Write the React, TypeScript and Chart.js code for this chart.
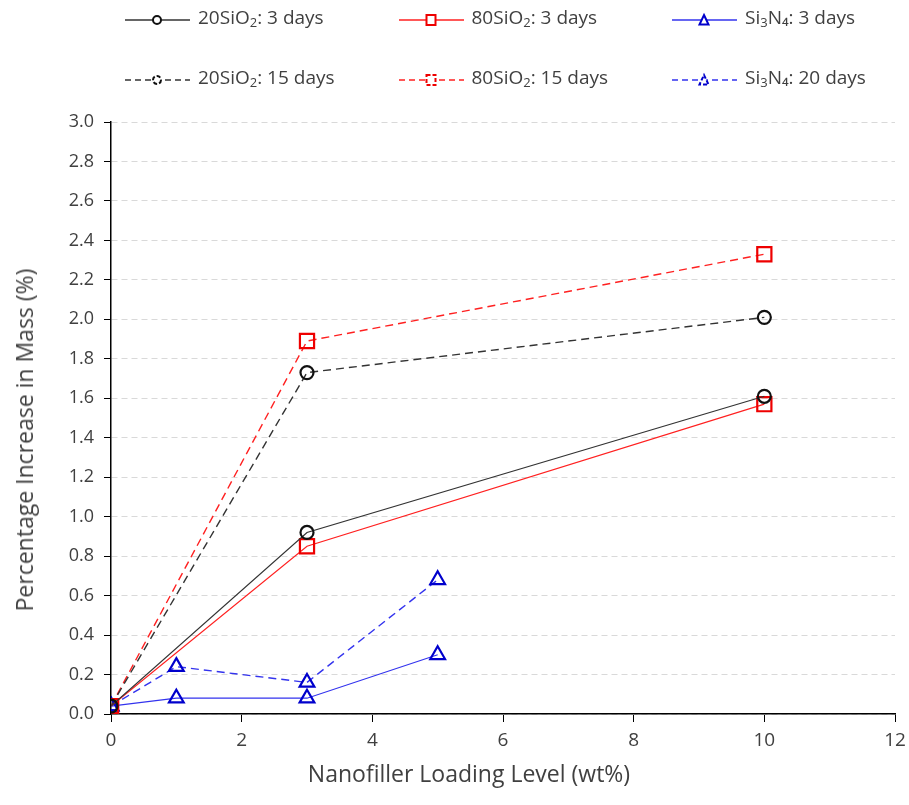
import React, { useEffect, useRef } from "react";
import { Chart, registerables } from "chart.js";

Chart.register(...registerables);

const sio20_3 = [{ x: 0, y: 0.04 }, { x: 3, y: 0.92 }, { x: 10, y: 1.61 }];
const sio80_3 = [{ x: 0, y: 0.04 }, { x: 3, y: 0.85 }, { x: 10, y: 1.57 }];
const si3n4_3 = [{ x: 0, y: 0.04 }, { x: 1, y: 0.08 }, { x: 3, y: 0.08 }, { x: 5, y: 0.3 }];
const sio20_15 = [{ x: 0, y: 0.04 }, { x: 3, y: 1.73 }, { x: 10, y: 2.01 }];
const sio80_15 = [{ x: 0, y: 0.04 }, { x: 3, y: 1.89 }, { x: 10, y: 2.33 }];
const si3n4_20 = [{ x: 0, y: 0.04 }, { x: 1, y: 0.24 }, { x: 3, y: 0.16 }, { x: 5, y: 0.68 }];

const xTitle = "Nanofiller Loading Level (wt%)";
const yTitle = "Percentage Increase in Mass (%)";

const BLACK_LINE = "#333333";
const BLACK_PT = "#111111";
const RED = "#ff2020";
const RED_PT = "#ee0000";
const BLUE = "#3333ee";
const BLUE_PT = "#0000cc";
const FONT = "'Open Sans', 'Noto Sans', sans-serif";
const TXT = "#404040";

type LegendItem = { base: string; sub: string; rest: string; color: string; pt: string; marker: string; dashed: boolean };
const legendRows: LegendItem[][] = [
  [
    { base: "20SiO", sub: "2", rest: ": 3 days", color: BLACK_LINE, pt: BLACK_PT, marker: "circle", dashed: false },
    { base: "80SiO", sub: "2", rest: ": 3 days", color: RED, pt: RED_PT, marker: "rect", dashed: false },
    { base: "Si", sub: "3", rest: "N\u2084: 3 days", color: BLUE, pt: BLUE_PT, marker: "triangle", dashed: false },
  ],
  [
    { base: "20SiO", sub: "2", rest: ": 15 days", color: BLACK_LINE, pt: BLACK_PT, marker: "circle", dashed: true },
    { base: "80SiO", sub: "2", rest: ": 15 days", color: RED, pt: RED_PT, marker: "rect", dashed: true },
    { base: "Si", sub: "3", rest: "N\u2084: 20 days", color: BLUE, pt: BLUE_PT, marker: "triangle", dashed: true },
  ],
];

function Marker({ item }: { item: LegendItem }) {
  const dash = item.dashed ? "6 4" : undefined;
  const pd = item.dashed ? "4 2" : undefined;
  let m: React.ReactNode = null;
  if (item.marker === "circle") m = <circle cx={32} cy={9} r={4} fill="white" stroke={item.pt} strokeWidth={2} strokeDasharray={pd} />;
  if (item.marker === "rect") m = <rect x={27.5} y={4} width={9} height={10} fill="white" stroke={item.pt} strokeWidth={2} strokeDasharray={pd} />;
  if (item.marker === "triangle") m = <polygon points="32,4 36.5,13.5 27.5,13.5" fill="white" stroke={item.pt} strokeWidth={2} strokeDasharray={pd} />;
  return (
    <svg width={65} height={18} style={{ display: "block" }}>
      <line x1={0} y1={9} x2={65} y2={9} stroke={item.color} strokeWidth={1.4} strokeDasharray={dash} />
      {m}
    </svg>
  );
}

export default function App() {
  const ref = useRef<HTMLCanvasElement | null>(null);
  useEffect(() => {
    if (!ref.current) return;
    const mk = (label: string, data: any[], color: string, pt: string, style: any, dashed: boolean, radius: number) => ({
      label,
      data,
      borderColor: color,
      backgroundColor: "white",
      borderWidth: dashed ? 1.4 : 1.2,
      borderDash: dashed ? [8, 5] : [],
      pointStyle: style,
      pointRadius: radius,
      pointBorderWidth: 2.2,
      pointBorderColor: pt,
      pointBackgroundColor: "rgba(255,255,255,0)",
      showLine: true,
      fill: false,
    });
    const chart = new Chart(ref.current, {
      type: "scatter",
      data: {
        datasets: [
          mk("20SiO2: 3 days", sio20_3, BLACK_LINE, BLACK_PT, "circle", false, 6.5),
          mk("80SiO2: 3 days", sio80_3, RED, RED_PT, "rect", false, 10),
          mk("Si3N4: 3 days", si3n4_3, BLUE, BLUE_PT, "triangle", false, 8.5),
          mk("20SiO2: 15 days", sio20_15, BLACK_LINE, BLACK_PT, "circle", true, 6.5),
          mk("80SiO2: 15 days", sio80_15, RED, RED_PT, "rect", true, 10),
          mk("Si3N4: 20 days", si3n4_20, BLUE, BLUE_PT, "triangle", true, 8.5),
        ] as any,
      },
      options: {
        animation: false,
        responsive: false,
        layout: { padding: { left: 0, right: 14, top: 122, bottom: 0 } },
        plugins: { legend: { display: false }, tooltip: { enabled: false } },
        scales: {
          x: {
            type: "linear",
            min: 0,
            max: 12,
            ticks: { stepSize: 2, color: TXT, font: { family: FONT, size: 19 }, padding: 7 },
            grid: { drawOnChartArea: false, tickLength: 8, tickColor: "#000", color: "#000" },
            border: { color: "#000", width: 1.5 },
            afterFit: (s: any) => { s.height = 91; s.paddingRight = 0; s.paddingLeft = 0; },
          },
          y: {
            type: "linear",
            min: 0,
            max: 3,
            ticks: { stepSize: 0.2, color: TXT, font: { family: FONT, size: 18 }, padding: 10, callback: (v: any) => Number(v).toFixed(1) },
            grid: { color: "#d9d9d9", tickLength: 7, tickColor: "#000", tickBorderDash: [], lineWidth: 1 },
            border: { color: "#000", width: 1.5, dash: [6, 4] },
            afterFit: (s: any) => { s.width = 111; },
          },
        },
      } as any,
    });
    return () => chart.destroy();
  }, []);

  return (
    <div style={{ position: "absolute", left: 0, top: 0, width: 909, height: 805, background: "white", overflow: "hidden" }}>
      <canvas ref={ref} width={909} height={805} style={{ position: "absolute", left: 0, top: 0 }} />
      {legendRows.map((row, ri) => (
        <div key={ri} style={{ position: "absolute", top: ri === 0 ? 6 : 66, left: 125, display: "flex" }}>
          {row.map((it, ii) => (
            <div key={ii} style={{ display: "flex", alignItems: "center", width: 273.5 }}>
              <Marker item={it} />
              <span style={{ marginLeft: 8, fontFamily: FONT, fontSize: 19, color: TXT, whiteSpace: "nowrap", lineHeight: "22px" }}>
                {it.base}
                <sub style={{ fontSize: 13, verticalAlign: "-3px" }}>{it.sub}</sub>
                {it.rest}
              </span>
            </div>
          ))}
        </div>
      ))}
      <div style={{ position: "absolute", left: 469, top: 773, transform: "translate(-50%, -50%)", fontFamily: FONT, fontSize: 23, color: TXT, whiteSpace: "nowrap" }}>
        {xTitle}
      </div>
      <div style={{ position: "absolute", left: 24, top: 440, transform: "translate(-50%, -50%) rotate(-90deg)", fontFamily: FONT, fontSize: 23, color: TXT, whiteSpace: "nowrap" }}>
        {yTitle}
      </div>
    </div>
  );
}
